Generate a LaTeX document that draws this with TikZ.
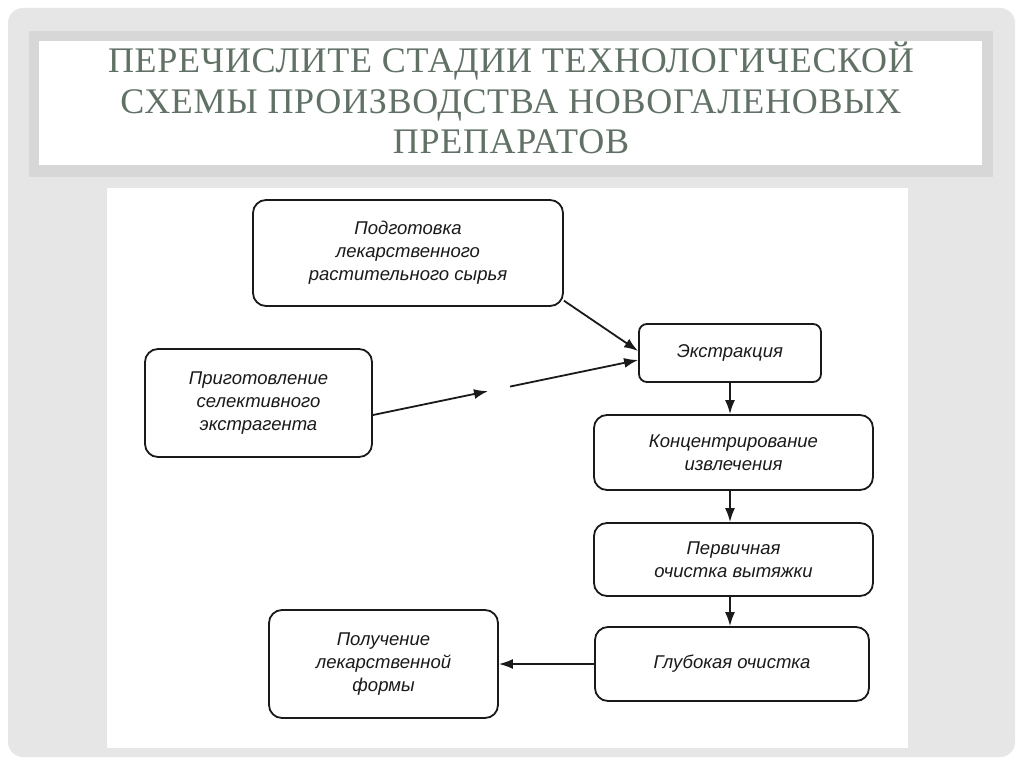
\documentclass[tikz,border=0pt]{standalone}
\usepackage{fontspec}
\setmainfont{Liberation Serif}
\newfontfamily\titlefont[LetterSpace=2]{Liberation Serif}
\newfontfamily\diagfont{Liberation Sans}
\usetikzlibrary{arrows.meta,calc}
\definecolor{panelgray}{HTML}{E6E6E6}
\definecolor{stripgray}{HTML}{D7D7D7}
\definecolor{titlegreen}{HTML}{617166}
\definecolor{ink}{HTML}{1A1A1A}
\tikzset{
  stagebox/.style={draw=ink, line width=1.8pt, rounded corners=13pt, align=center,
    font=\diagfont\itshape\fontsize{18.5}{23}\selectfont, text=ink, inner sep=0pt},
  flow/.style={draw=ink, line width=1.8pt, -{Latex[length=14pt,width=10pt]}},
  titleline/.style={anchor=base, text=titlegreen, font=\titlefont\fontsize{36}{40}\selectfont, inner sep=0pt}
}
\begin{document}
\begin{tikzpicture}[x=1pt,y=-1pt]
\useasboundingbox (0,0) rectangle (1024,767);
\fill[white] (0,0) rectangle (1024,767);
\fill[panelgray, rounded corners=15pt] (8,8) rectangle (1015,757);
\fill[stripgray] (29,31) rectangle (993,177);
\fill[white] (39,41) rectangle (982,165);
\fill[white] (107,188) rectangle (908,748);

\node[titleline] (title1) at (511,73) {ПЕРЕЧИСЛИТЕ СТАДИИ ТЕХНОЛОГИЧЕСКОЙ};
\node[titleline] (title2) at (511,114) {СХЕМЫ ПРОИЗВОДСТВА НОВОГАЛЕНОВЫХ};
\node[titleline] (title3) at (511,154) {ПРЕПАРАТОВ};

\node[stagebox, minimum width=310pt, minimum height=106pt] (P1) at (408,253)
  {Подготовка\\лекарственного\\растительного сырья};
\node[stagebox, minimum width=227pt, minimum height=108pt] (P2) at (258.5,403)
  {Приготовление\\селективного\\экстрагента};
\node[stagebox, rounded corners=8pt, minimum width=182pt, minimum height=58pt] (E) at (730,353)
  {Экстракция};
\node[stagebox, minimum width=279pt, minimum height=75pt] (K) at (733.5,452.5)
  {Концентрирование\\извлечения};
\node[stagebox, minimum width=279pt, minimum height=73pt] (Pv) at (733.5,559.5)
  {Первичная\\очистка вытяжки};
\node[stagebox, minimum width=274pt, minimum height=74pt] (G) at (732,664)
  {Глубокая очистка};
\node[stagebox, minimum width=229pt, minimum height=108pt] (F) at (383.5,664)
  {Получение\\лекарственной\\формы};

\coordinate (Ein1) at ([yshift=2pt]E.west);
\coordinate (Ein2) at ([yshift=-7pt]E.west);
\draw[flow] (P1.-17) -- (Ein1);
\draw[flow] (P2.-6) -- ($(P2.-6)!0.434!(Ein2)$);
\draw[flow] ($(P2.-6)!0.517!(Ein2)$) -- (Ein2);
\draw[flow] (E.south) -- (E.south |- K.north);
\draw[flow] (K.south -| E.south) -- (Pv.north -| E.south);
\draw[flow] (Pv.south -| E.south) -- (G.north -| E.south);
\draw[flow] (G.west) -- (F.east);
\end{tikzpicture}
\end{document}
